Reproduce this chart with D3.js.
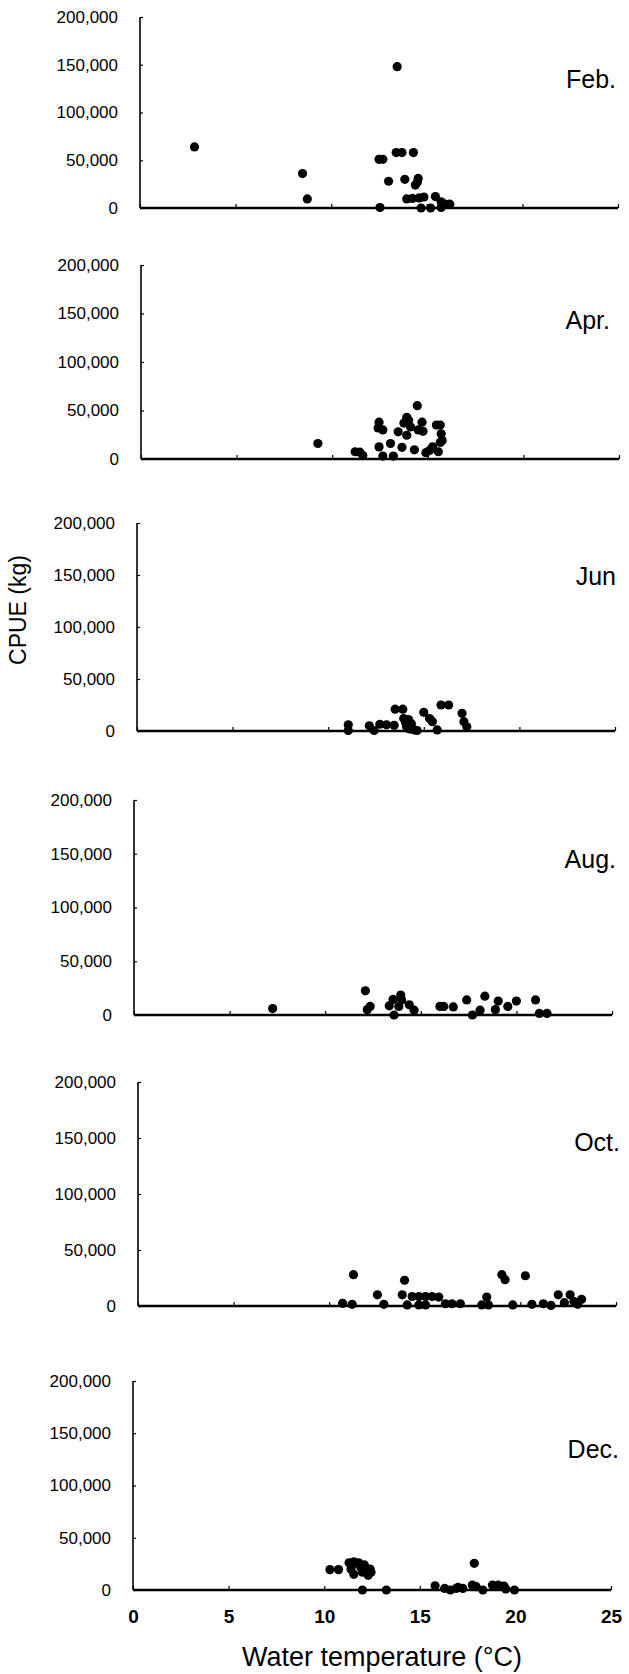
<!DOCTYPE html>
<html><head><meta charset="utf-8">
<script src="https://cdn.jsdelivr.net/npm/d3@7"></script>
<style>
body{margin:0;background:#fff}
text{font-family:"Liberation Sans", Arial, sans-serif;fill:#000}
</style>
</head><body>
<svg id="chart" width="629" height="1674"></svg>
<script>
// ---- data (water temperature °C, CPUE kg) ----
const months = ["Feb.", "Apr.", "Jun", "Aug.", "Oct.", "Dec."];
const febData = [[2.85,64000],[8.5,36000],[8.75,9500],[12.55,500],[12.5,51000],[12.7,51000],[13.0,28000],[13.45,148000],[13.4,58000],[13.7,58000],[14.3,58000],[13.85,30000],[14.55,31000],[14.5,27000],[14.4,24000],[13.95,9500],[14.25,10000],[14.6,10500],[14.85,11500],[15.45,12000],[14.7,0],[15.2,0],[15.75,6500],[15.95,4000],[16.2,4000],[15.75,500]];
const aprData = [[9.25,16000],[11.2,7500],[11.45,7000],[11.6,3500],[12.45,38000],[12.4,32000],[12.65,30000],[12.45,12500],[12.65,3000],[13.05,16000],[13.2,3000],[13.45,28000],[13.65,12000],[13.75,37000],[13.9,43000],[14.0,40000],[13.9,24500],[14.1,33000],[14.3,9500],[14.45,55000],[14.5,30000],[14.7,38000],[14.75,28500],[14.9,6500],[15.1,9000],[15.25,12500],[15.45,35000],[15.65,35000],[15.7,26000],[15.65,17000],[15.75,19000],[15.55,7500]];
const junData = [[11.05,6000],[11.05,500],[12.15,5000],[12.4,500],[12.7,6500],[13.05,6000],[13.45,5500],[13.5,21000],[13.9,21000],[13.95,12000],[14.05,8000],[14.1,4000],[14.2,11000],[14.25,2000],[14.35,7000],[14.5,1000],[14.65,500],[15.0,18000],[15.3,12000],[15.45,9000],[15.7,1000],[15.9,25000],[16.3,25000],[17.0,17000],[17.1,9000],[17.25,4000]];
const augData = [[7.25,6000],[12.1,22500],[12.35,8000],[12.2,5000],[13.35,8500],[13.55,14500],[13.6,0],[13.85,8000],[13.95,18500],[14.0,14000],[14.4,9500],[14.65,4500],[16.0,8000],[16.2,8000],[16.7,7500],[17.4,14000],[17.7,0],[18.1,4500],[18.35,17500],[18.9,5000],[19.05,13000],[19.55,8000],[20.0,13000],[21.0,14000],[21.2,1500],[21.6,1500]];
const octData = [[10.7,2400],[11.2,1500],[11.27,28000],[12.52,10000],[12.86,1500],[13.94,23000],[13.82,10000],[14.34,8500],[14.69,8500],[15.04,8500],[15.38,8500],[14.08,1000],[14.69,1000],[15.04,1000],[15.73,8000],[16.08,2000],[16.42,2000],[16.86,2000],[17.98,1000],[18.33,1000],[18.24,8000],[19.03,28000],[19.2,23500],[19.6,1000],[20.26,27000],[20.6,1500],[21.2,2000],[21.6,500],[21.98,10000],[22.3,3000],[22.6,10000],[22.8,4000],[23.0,1500],[23.2,6000]];
const decData = [[10.3,19500],[10.75,19500],[11.3,26000],[11.55,27000],[11.8,26000],[12.1,24000],[12.4,20000],[12.3,14000],[12.0,17000],[11.4,20000],[11.55,15000],[11.9,22000],[12.45,17000],[11.45,24000],[12.0,0],[13.25,0],[15.8,4000],[16.3,1500],[16.6,0],[16.9,1500],[17.0,2500],[17.25,1500],[17.85,25500],[17.75,4800],[17.95,3200],[18.3,0],[18.8,4800],[19.1,4800],[19.4,3800],[19.5,1000],[19.95,0]];
const seriesData = [febData, aprData, junData, augData, octData, decData];
const yTicks = [0, 50000, 100000, 150000, 200000];
const xTicks = [0, 5, 10, 15, 20, 25];
const xTitle = "Water temperature (\u00B0C)";
const yTitle = "CPUE (kg)";

// ---- layout (pixel geometry of each panel) ----
const layout = [
  {x0:140, top:17,   bottom:208,  lx:616, ly:88},
  {x0:141, top:265,  bottom:459,  lx:610, ly:329},
  {x0:137, top:523,  bottom:731,  lx:616, ly:585},
  {x0:134, top:800,  bottom:1015, lx:616, ly:868},
  {x0:138, top:1082, bottom:1306, lx:620, ly:1151},
  {x0:133, top:1381, bottom:1590, lx:619, ly:1458}
];
const plotW = 478;

const svg = d3.select("#chart");
const fmt = d3.format(",");

months.forEach((m, i) => {
  const L = layout[i];
  const x = d3.scaleLinear().domain([0, 25]).range([L.x0, L.x0 + plotW]);
  const y = d3.scaleLinear().domain([0, 200000]).range([L.bottom, L.top]);
  const g = svg.append("g");

  // y axis
  const ya = g.append("g").attr("transform", `translate(${L.x0},0)`)
    .call(d3.axisLeft(y).tickValues(yTicks).tickFormat(fmt).tickSize(-3).tickPadding(22));
  ya.select(".domain").attr("stroke", "#000").attr("stroke-width", 1.6).attr("d", `M0,${L.top}V${L.bottom}`);
  ya.selectAll(".tick line").attr("stroke", "#000").attr("stroke-width", 1.2);
  ya.selectAll(".tick text").attr("font-size", 17).attr("font-family", "Liberation Sans, Arial, sans-serif").attr("fill", "#000");

  // x axis
  const xa = g.append("g").attr("transform", `translate(0,${L.bottom})`)
    .call(d3.axisBottom(x).tickValues(xTicks).tickSize(-4).tickPadding(20)
      .tickFormat(i === months.length - 1 ? d3.format("d") : () => ""));
  xa.select(".domain").attr("stroke", "#000").attr("stroke-width", 2.4).attr("d", `M${L.x0},0H${L.x0 + plotW}`);
  xa.selectAll(".tick line").attr("stroke", "#000").attr("stroke-width", 1.2);
  xa.selectAll(".tick text").attr("font-size", 19).attr("font-weight", "bold")
    .attr("font-family", "Liberation Sans, Arial, sans-serif").attr("fill", "#000");

  // points
  g.append("g").selectAll("circle").data(seriesData[i]).join("circle")
    .attr("cx", d => x(d[0])).attr("cy", d => y(d[1])).attr("r", 4.6).attr("fill", "#000");

  // month label
  g.append("text").attr("x", L.lx).attr("y", L.ly).attr("text-anchor", "end")
    .attr("font-size", 25).text(m);
});

// axis titles
svg.append("text").attr("x", 382).attr("y", 1666).attr("text-anchor", "middle")
  .attr("font-size", 27).text(xTitle);
svg.append("text").attr("transform", "translate(26,610) rotate(-90)").attr("text-anchor", "middle")
  .attr("font-size", 23).text(yTitle);
</script>
</body></html>
